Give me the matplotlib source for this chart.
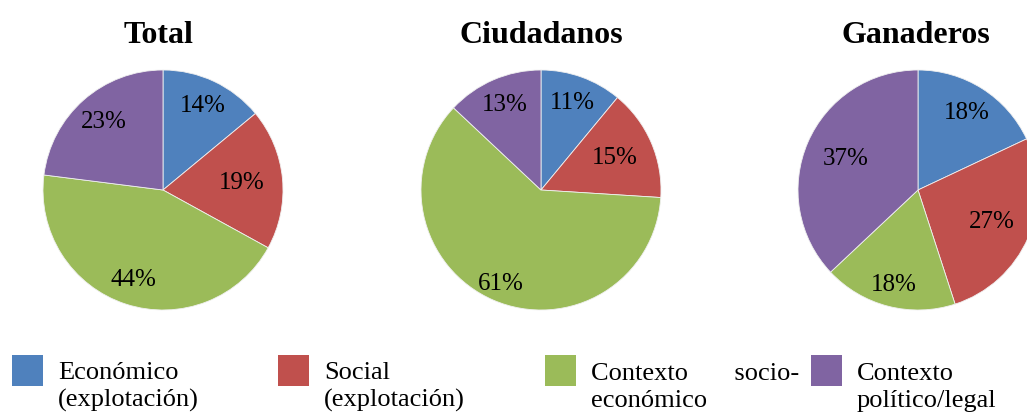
import numpy as np
import matplotlib.pyplot as plt
from matplotlib.patches import Rectangle

# datos (porcentajes)
categorias = ['Económico\n(explotación)', 'Social\n(explotación)',
              'Contexto       socio-\neconómico', 'Contexto\npolítico/legal']
titulos = ['Total', 'Ciudadanos', 'Ganaderos']
total = [14, 19, 44, 23]
ciudadanos = [11, 15, 61, 13]
ganaderos = [18, 27, 18, 37]

colores = ['#4F81BD', '#C0504D', '#9BBB59', '#8064A2']

# distancia radial de cada etiqueta (como la coloca Excel)
dist_etiquetas = [[0.77, 0.66, 0.79, 0.75],
                  [0.77, 0.67, 0.85, 0.77],
                  [0.76, 0.67, 0.82, 0.66]]

W, H = 1027, 412
plt.rcParams['font.family'] = ['Liberation Serif', 'DejaVu Serif']
fig = plt.figure(figsize=(W / 100, H / 100), dpi=100)

centros_x = [163, 541, 918]
cy, r = 190, 120
titulo_x = [158, 541, 916]

for serie, titulo, cx, tx, dists in zip([total, ciudadanos, ganaderos], titulos,
                                        centros_x, titulo_x, dist_etiquetas):
    ax = fig.add_axes([(cx - r) / W, (H - cy - r) / H, 2 * r / W, 2 * r / H])
    wedges, textos, autotextos = ax.pie(
        serie, colors=colores, startangle=90, counterclock=False,
        autopct='%1.0f%%', pctdistance=0.8, radius=1,
        wedgeprops=dict(edgecolor='#f0f0f0', linewidth=0.6),
        textprops=dict(fontsize=18, color='black'))
    # recolocar etiquetas en el ángulo medio de cada sector
    for w, t, d in zip(wedges, autotextos, dists):
        ang = np.deg2rad((w.theta1 + w.theta2) / 2)
        t.set_position((d * np.cos(ang), d * np.sin(ang)))
    ax.set_xlim(-1, 1)
    ax.set_ylim(-1, 1)
    fig.text(tx / W, 1 - 43 / H, titulo, ha='center', va='baseline',
             fontsize=23, fontweight='bold')

# leyenda manual
for i, (cat, col) in enumerate(zip(categorias, colores)):
    x0 = 12 + i * 266.3
    fig.patches.append(Rectangle((x0 / W, 1 - 386 / H), 31 / W, 31 / H,
                                 transform=fig.transFigure, facecolor=col,
                                 edgecolor='none'))
    fig.text((x0 + 46) / W, 1 - 407 / H, cat, ha='left', va='baseline',
             fontsize=19, linespacing=1.3)

fig.savefig('out.png', dpi=100)
